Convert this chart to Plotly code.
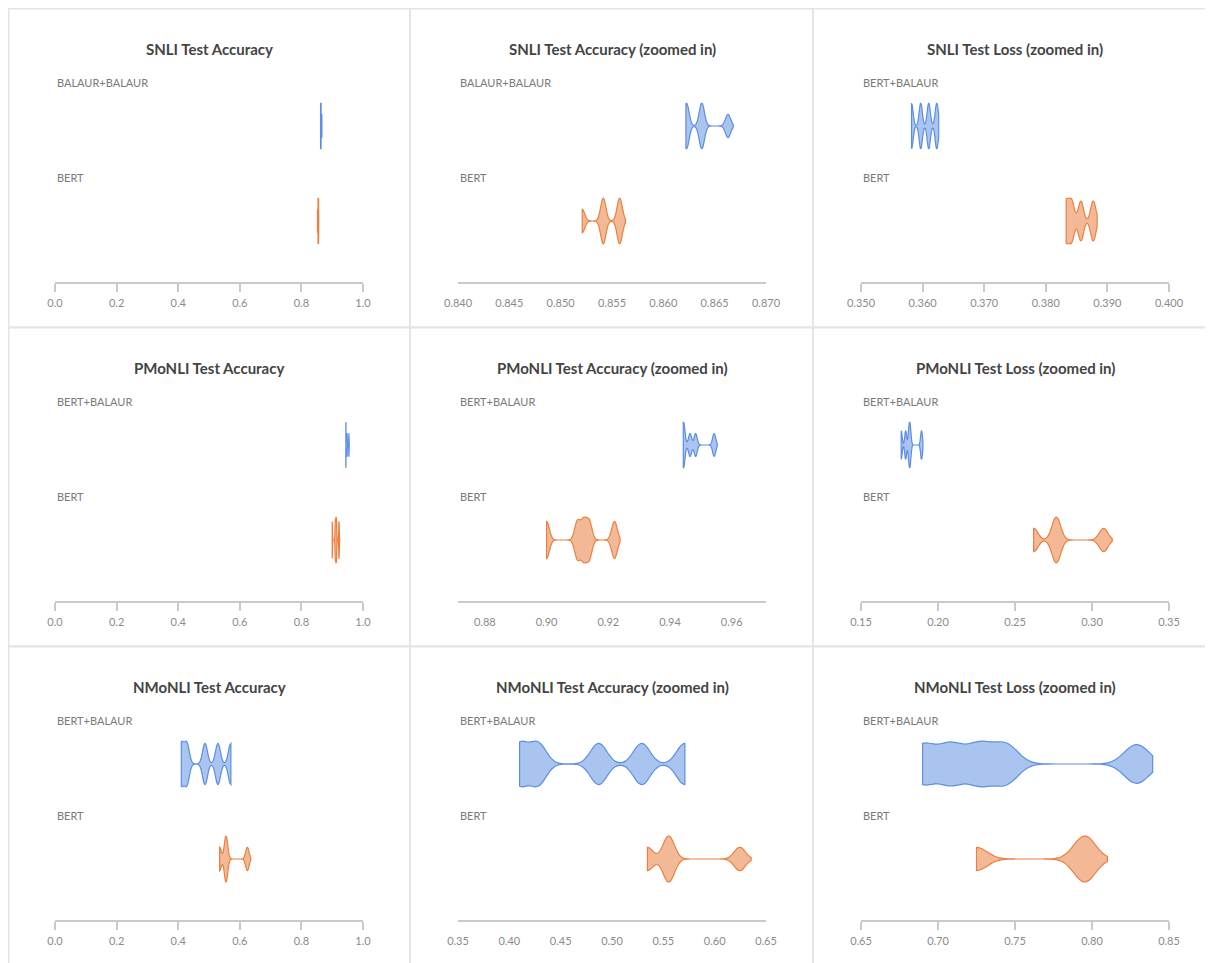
import plotly.graph_objects as go

# ---------------- data ----------------
PANEL_TITLES = [
    "SNLI Test Accuracy", "SNLI Test Accuracy (zoomed in)", "SNLI Test Loss (zoomed in)",
    "PMoNLI Test Accuracy", "PMoNLI Test Accuracy (zoomed in)", "PMoNLI Test Loss (zoomed in)",
    "NMoNLI Test Accuracy", "NMoNLI Test Accuracy (zoomed in)", "NMoNLI Test Loss (zoomed in)",
]
TOP_LABELS = [
    "BALAUR+BALAUR", "BALAUR+BALAUR", "BERT+BALAUR",
    "BERT+BALAUR", "BERT+BALAUR", "BERT+BALAUR",
    "BERT+BALAUR", "BERT+BALAUR", "BERT+BALAUR",
]
BOTTOM_LABEL = "BERT"

snli_acc_balaur = [0.8622, 0.8623, 0.8637, 0.8638, 0.8663]
snli_acc_bert = [0.8521, 0.8541, 0.8542, 0.8557, 0.8558]
snli_loss_balaur = [0.3582, 0.3597, 0.3610, 0.3623]
snli_loss_bert = [0.3833, 0.3842, 0.3857, 0.3877]
pmonli_acc_balaur = [0.9443, 0.9444, 0.9465, 0.9483, 0.9543]
pmonli_acc_bert = [0.9000, 0.9100, 0.9120, 0.9138, 0.9220]
pmonli_loss_balaur = [0.1761, 0.1790, 0.1812, 0.1820, 0.1893]
pmonli_loss_bert = [0.2621, 0.2762, 0.2774, 0.3075]
nmonli_acc_balaur = [0.410, 0.428, 0.487, 0.529, 0.571]
nmonli_acc_bert = [0.5345, 0.5545, 0.5560, 0.6245]
nmonli_loss_balaur = [0.690, 0.7085, 0.727, 0.744, 0.829]
nmonli_loss_bert = [0.725, 0.7945, 0.7960]

full_ticks = [0.0, 0.2, 0.4, 0.6, 0.8, 1.0]
snli_acc_ticks = [0.840, 0.845, 0.850, 0.855, 0.860, 0.865, 0.870]
snli_loss_ticks = [0.350, 0.360, 0.370, 0.380, 0.390, 0.400]
pmonli_acc_ticks = [0.88, 0.90, 0.92, 0.94, 0.96]
pmonli_loss_ticks = [0.15, 0.20, 0.25, 0.30, 0.35]
nmonli_acc_ticks = [0.35, 0.40, 0.45, 0.50, 0.55, 0.60, 0.65]
nmonli_loss_ticks = [0.65, 0.70, 0.75, 0.80, 0.85]

# ---------------- panel specs (bw = kde bandwidth, ext = right-tail extension in bandwidths) ----------------
panels = [
    dict(top=snli_acc_balaur, bot=snli_acc_bert, bw=(0.00025, 0.00025), ext=(2, 2), rng=[0, 1], ticks=full_ticks, fmt="{:.1f}", tick=True),
    dict(top=snli_acc_balaur, bot=snli_acc_bert, bw=(0.00025, 0.00025), ext=(2, 2), rng=[0.840, 0.870], ticks=snli_acc_ticks, fmt="{:.3f}", tick=False),
    dict(top=snli_loss_balaur, bot=snli_loss_bert, bw=(0.00026, 0.00042), ext=(1.2, 1.5), rng=[0.350, 0.400], ticks=snli_loss_ticks, fmt="{:.3f}", tick=True),
    dict(top=pmonli_acc_balaur, bot=pmonli_acc_bert, bw=(0.0005, 0.0009), ext=(2, 2), rng=[0, 1], ticks=full_ticks, fmt="{:.1f}", tick=True),
    dict(top=pmonli_acc_balaur, bot=pmonli_acc_bert, bw=(0.0005, 0.0009), ext=(2, 2), rng=[0.8713, 0.9711], ticks=pmonli_acc_ticks, fmt="{:.2f}", tick=False),
    dict(top=pmonli_loss_balaur, bot=pmonli_loss_bert, bw=(0.0006, 0.0028), ext=(1.5, 2), rng=[0.15, 0.35], ticks=pmonli_loss_ticks, fmt="{:.2f}", tick=True),
    dict(top=nmonli_acc_balaur, bot=nmonli_acc_bert, bw=(0.008, 0.0055), ext=(0, 2), rng=[0, 1], ticks=full_ticks, fmt="{:.1f}", tick=True),
    dict(top=nmonli_acc_balaur, bot=nmonli_acc_bert, bw=(0.008, 0.0055), ext=(0, 2), rng=[0.35, 0.65], ticks=nmonli_acc_ticks, fmt="{:.2f}", tick=False),
    dict(top=nmonli_loss_balaur, bot=nmonli_loss_bert, bw=(0.008, 0.007), ext=(1.3, 2), rng=[0.65, 0.85], ticks=nmonli_loss_ticks, fmt="{:.2f}", tick=True),
]

W, H = 1213, 963
OFF = 8  # page body margin
BLUE_LINE, BLUE_FILL = "rgb(92,142,226)", "rgba(92,142,226,0.52)"
ORANGE_LINE, ORANGE_FILL = "rgb(234,128,64)", "rgba(234,128,64,0.55)"
FONT = "Lato, 'Open Sans', sans-serif"
Y_RANGE = [-0.642, 1.484]

fig = go.Figure()
annotations, shapes = [], []
layout = {}


def px_x(x):
    return (x - OFF) / W


def px_y(y):
    return 1 - (y - OFF) / H


for p, spec in enumerate(panels):
    r, c = divmod(p, 3)
    suf = "" if p == 0 else str(p + 1)
    col_left = 7 + 403 * c
    row_top = 8 + 319 * r
    ax_x0, ax_x1 = col_left + 48, col_left + 356
    axis_px = row_top + 274
    top_px = axis_px - 202

    layout["xaxis" + suf] = dict(
        domain=[px_x(ax_x0), px_x(ax_x1)], anchor="y" + suf, range=spec["rng"],
        showline=True, linecolor="#c9c9c9", linewidth=1.5,
        ticks="outside", ticklen=8, tickwidth=1.5, ticklabelstandoff=2,
        tickcolor="#c9c9c9" if spec["tick"] else "rgba(0,0,0,0)",
        tickvals=spec["ticks"], ticktext=[spec["fmt"].format(t) for t in spec["ticks"]],
        tickfont=dict(family=FONT, size=11, color="#8a8a8a"),
        showgrid=False, zeroline=False, fixedrange=True, automargin=False,
    )
    layout["yaxis" + suf] = dict(
        domain=[px_y(axis_px), px_y(top_px)], anchor="x" + suf, range=Y_RANGE,
        visible=False, fixedrange=True, automargin=False,
    )

    for data, pos, bw, ext, lc, fc, name in [
        (spec["top"], 1, spec["bw"][0], spec["ext"][0], BLUE_LINE, BLUE_FILL, TOP_LABELS[p]),
        (spec["bot"], 0, spec["bw"][1], spec["ext"][1], ORANGE_LINE, ORANGE_FILL, BOTTOM_LABEL),
    ]:
        fig.add_trace(go.Violin(
            x=data, y0=pos, orientation="h", name=name,
            width=0.48, bandwidth=bw, spanmode="manual",
            span=[min(data), max(data) + ext * bw],
            line=dict(color=lc, width=1.2), fillcolor=fc,
            points=False, box_visible=False, meanline_visible=False,
            scalemode="width", showlegend=False, hoveron="violins",
            xaxis="x" + suf, yaxis="y" + suf,
        ))

    annotations.append(dict(
        text="<b>" + PANEL_TITLES[p] + "</b>", xref="x" + suf + " domain", x=0.5,
        yref="paper", y=px_y(row_top + 41), xanchor="center", yanchor="middle",
        showarrow=False, font=dict(family=FONT, size=15, color="#444444"),
    ))
    for lab, yv in [(TOP_LABELS[p], 1.453), (BOTTOM_LABEL, 0.463)]:
        annotations.append(dict(
            text=lab, xref="x" + suf + " domain", x=0, yref="y" + suf, y=yv,
            xanchor="left", yanchor="middle", showarrow=False,
            font=dict(family=FONT, size=11, color="#7a7a7a"),
        ))
    border_left = max(col_left, OFF + 0.8)
    shapes.append(dict(
        type="rect", xref="paper", yref="paper",
        x0=px_x(border_left), x1=px_x(col_left + 403),
        y0=px_y(row_top + 0.8), y1=px_y(row_top + 319),
        line=dict(color="#e4e4e4", width=1.5), fillcolor="rgba(0,0,0,0)", layer="below",
    ))

fig.update_layout(
    width=W, height=H, margin=dict(l=0, r=0, t=0, b=0, autoexpand=False),
    paper_bgcolor="white", plot_bgcolor="white",
    violinmode="overlay", annotations=annotations, shapes=shapes,
    font=dict(family=FONT), **layout,
)

fig.write_html("out.html")
